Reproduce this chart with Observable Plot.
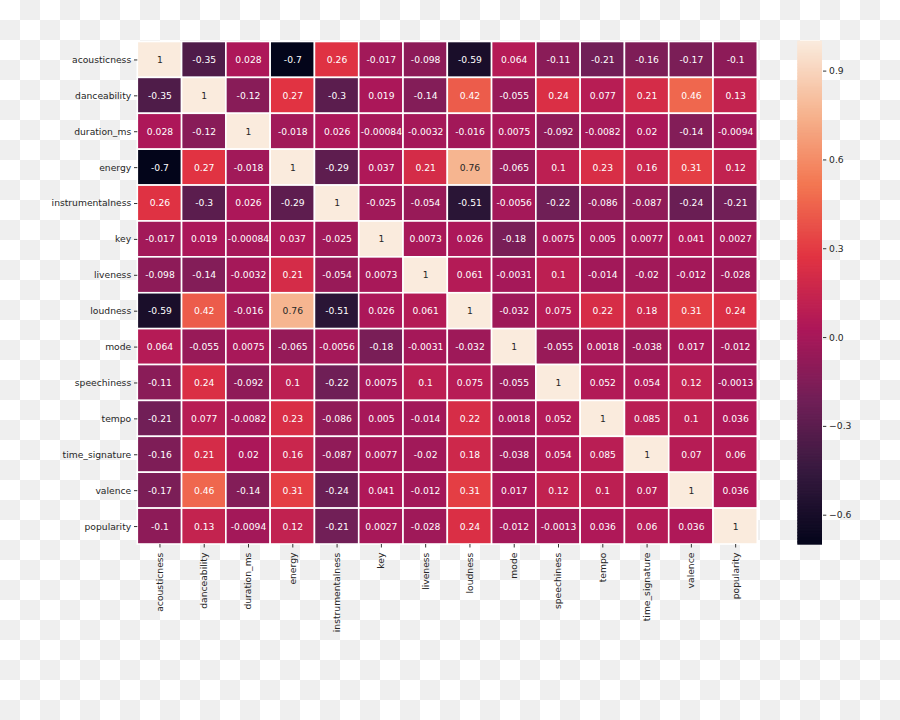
<!DOCTYPE html>
<html>
<head>
<meta charset="utf-8">
<script src="https://cdn.jsdelivr.net/npm/d3@7"></script>
<script src="https://cdn.jsdelivr.net/npm/@observablehq/plot@0.6"></script>
<style>
  html, body { margin: 0; padding: 0; }
  #wrap {
    position: relative; width: 900px; height: 720px; overflow: hidden;
    background: repeating-conic-gradient(#efefef 0% 25%, #ffffff 0% 50%) 0 0 / 40px 40px;
    font-family: "DejaVu Sans", sans-serif;
  }
  #wrap svg { position: absolute; left: 0; top: 0; }
</style>
</head>
<body>
<div id="wrap"></div>
<script>
const features = ["acousticness","danceability","duration_ms","energy","instrumentalness","key","liveness","loudness","mode","speechiness","tempo","time_signature","valence","popularity"];

const acousticness     = [1, -0.35, 0.028, -0.7, 0.26, -0.017, -0.098, -0.59, 0.064, -0.11, -0.21, -0.16, -0.17, -0.1];
const danceability     = [-0.35, 1, -0.12, 0.27, -0.3, 0.019, -0.14, 0.42, -0.055, 0.24, 0.077, 0.21, 0.46, 0.13];
const duration_ms      = [0.028, -0.12, 1, -0.018, 0.026, -0.00084, -0.0032, -0.016, 0.0075, -0.092, -0.0082, 0.02, -0.14, -0.0094];
const energy           = [-0.7, 0.27, -0.018, 1, -0.29, 0.037, 0.21, 0.76, -0.065, 0.1, 0.23, 0.16, 0.31, 0.12];
const instrumentalness = [0.26, -0.3, 0.026, -0.29, 1, -0.025, -0.054, -0.51, -0.0056, -0.22, -0.086, -0.087, -0.24, -0.21];
const key              = [-0.017, 0.019, -0.00084, 0.037, -0.025, 1, 0.0073, 0.026, -0.18, 0.0075, 0.005, 0.0077, 0.041, 0.0027];
const liveness         = [-0.098, -0.14, -0.0032, 0.21, -0.054, 0.0073, 1, 0.061, -0.0031, 0.1, -0.014, -0.02, -0.012, -0.028];
const loudness         = [-0.59, 0.42, -0.016, 0.76, -0.51, 0.026, 0.061, 1, -0.032, 0.075, 0.22, 0.18, 0.31, 0.24];
const mode             = [0.064, -0.055, 0.0075, -0.065, -0.0056, -0.18, -0.0031, -0.032, 1, -0.055, 0.0018, -0.038, 0.017, -0.012];
const speechiness      = [-0.11, 0.24, -0.092, 0.1, -0.22, 0.0075, 0.1, 0.075, -0.055, 1, 0.052, 0.054, 0.12, -0.0013];
const tempo            = [-0.21, 0.077, -0.0082, 0.23, -0.086, 0.005, -0.014, 0.22, 0.0018, 0.052, 1, 0.085, 0.1, 0.036];
const time_signature   = [-0.16, 0.21, 0.02, 0.16, -0.087, 0.0077, -0.02, 0.18, -0.038, 0.054, 0.085, 1, 0.07, 0.06];
const valence          = [-0.17, 0.46, -0.14, 0.31, -0.24, 0.041, -0.012, 0.31, 0.017, 0.12, 0.1, 0.07, 1, 0.036];
const popularity       = [-0.1, 0.13, -0.0094, 0.12, -0.21, 0.0027, -0.028, 0.24, -0.012, -0.0013, 0.036, 0.06, 0.036, 1];

const matrixRows = [acousticness, danceability, duration_ms, energy, instrumentalness, key, liveness, loudness, mode, speechiness, tempo, time_signature, valence, popularity];

const colorbarTicks = [-0.6, -0.3, 0.0, 0.3, 0.6, 0.9];

// seaborn "rocket" colormap stops
const rocketStops = ["#03051a", "#35193e", "#701f57", "#ad1759", "#e13342", "#f37651", "#f6b48f", "#faebdd"];
const rocket = d3.piecewise(d3.interpolateRgb, rocketStops);

const table = [];
matrixRows.forEach((row, i) => row.forEach((v, j) => table.push({row: features[i], col: features[j], value: v})));

const vmin = d3.min(table, d => d.value);
const vmax = d3.max(table, d => d.value);
const colorScale = {type: "linear", domain: [vmin, vmax], interpolate: rocket};

function luminance(c) {
  const rgb = d3.rgb(c);
  const f = x => { x /= 255; return x <= 0.03928 ? x / 12.92 : Math.pow((x + 0.055) / 1.055, 2.4); };
  return 0.2126 * f(rgb.r) + 0.7152 * f(rgb.g) + 0.0722 * f(rgb.b);
}
const textColor = d => luminance(rocket((d.value - vmin) / (vmax - vmin))) > 0.408 ? "#262626" : "#ffffff";

const W = 900, H = 720;
const gLeft = 137.3, gRight = 757.3, gTop = 41.5, gBottom = 544;
const FS = 9.2;

const heat = Plot.plot({
  width: W, height: H,
  marginLeft: gLeft, marginRight: W - gRight, marginTop: gTop, marginBottom: H - gBottom,
  style: {background: "transparent", fontFamily: "DejaVu Sans, sans-serif", fontSize: FS + "px", color: "#262626"},
  x: {domain: features, padding: 0, round: false, label: null},
  y: {domain: features, padding: 0, round: false, label: null},
  color: colorScale,
  marks: [
    Plot.cell(table, {x: "col", y: "row", fill: "value", stroke: "#ffffff", strokeWidth: 1.6}),
    Plot.text(table, {x: "col", y: "row", text: d => String(d.value), fill: textColor, fontSize: FS}),
    Plot.axisY({tickSize: 3.3, tickPadding: 3.3, label: null, fontSize: FS, stroke: "#333"}),
    Plot.axisX({tickSize: 3.5, tickPadding: 4.6, tickRotate: -90, label: null, fontSize: FS, stroke: "#333"})
  ]
});

const nBands = 340;
const bands = d3.range(nBands).map(i => {
  const a = vmin + (vmax - vmin) * i / nBands;
  const b = vmin + (vmax - vmin) * (i + 1) / nBands;
  return {a, b, v: (a + b) / 2};
});

const cbLeft = 797.3, cbRight = 822, cbTop = 41, cbBottom = 544.3;
const bar = Plot.plot({
  width: W, height: H,
  marginLeft: cbLeft, marginRight: W - cbRight, marginTop: cbTop, marginBottom: H - cbBottom,
  style: {background: "transparent", fontFamily: "DejaVu Sans, sans-serif", fontSize: FS + "px", color: "#262626"},
  x: {domain: [0, 1], axis: null},
  y: {domain: [vmin, vmax], label: null},
  color: colorScale,
  marks: [
    Plot.rect(bands, {x1: 0, x2: 1, y1: "a", y2: "b", fill: "v", insetTop: -0.4, insetBottom: -0.4}),
    Plot.axisY({anchor: "right", ticks: colorbarTicks, tickSize: 3.3, tickPadding: 3.3, label: null, fontSize: FS, stroke: "#333",
      tickFormat: d => d.toFixed(1).replace("-", "\u2212")})
  ]
});

const wrap = document.getElementById("wrap");
wrap.appendChild(heat);
wrap.appendChild(bar);
</script>
</body>
</html>
